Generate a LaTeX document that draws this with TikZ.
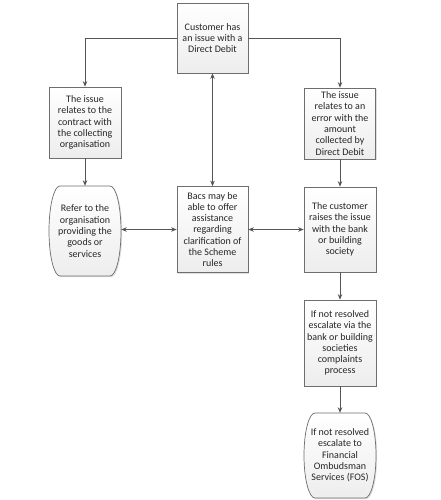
\documentclass[tikz,border=0pt]{standalone}
\usepackage{fontspec}
\setmainfont{Carlito}
\usetikzlibrary{arrows.meta,calc,shadows}
\definecolor{edge}{HTML}{6E6E6E}
\definecolor{conn}{HTML}{555555}
\definecolor{txt}{HTML}{262626}
\tikzset{
  boxfill/.style={draw=edge, line width=0.7pt, top color=white, bottom color=gray!14,
    drop shadow={shadow xshift=1.2pt, shadow yshift=-1.2pt, opacity=0.25}},
  box/.style={boxfill, align=center, inner sep=1pt, text=txt,
    font=\fontsize{10}{11.3}\selectfont},
  plaintxt/.style={align=center, inner sep=1pt, text=txt,
    font=\fontsize{10}{11.3}\selectfont},
  conn/.style={draw=conn, line width=0.8pt},
  arr/.style={conn, -{Stealth[length=5.5pt,width=4.5pt]}},
  darr/.style={conn, {Stealth[length=5.5pt,width=4.5pt]}-{Stealth[length=5.5pt,width=4.5pt]}}
}
% name, x, y, w, h, text
\newcommand\myoval[6]{%
  \path[boxfill] (#2-#4/2+11,#3-#5/2) -- (#2+#4/2-11,#3-#5/2)
    .. controls (#2+#4/2-4.9,#3-#5/2) and (#2+#4/2,#3-0.276*#5) .. (#2+#4/2,#3)
    .. controls (#2+#4/2,#3+0.276*#5) and (#2+#4/2-4.9,#3+#5/2) .. (#2+#4/2-11,#3+#5/2)
    -- (#2-#4/2+11,#3+#5/2)
    .. controls (#2-#4/2+4.9,#3+#5/2) and (#2-#4/2,#3+0.276*#5) .. (#2-#4/2,#3)
    .. controls (#2-#4/2,#3-0.276*#5) and (#2-#4/2+4.9,#3-#5/2) .. (#2-#4/2+11,#3-#5/2) -- cycle;
  \node[plaintxt, minimum width=#4, minimum height=#5] (#1) at (#2,#3) {#6};}
\begin{document}
\begin{tikzpicture}[x=1pt,y=-1pt]
\path[use as bounding box] (0,0) rectangle (440,500);
\fill[white] (0,0) rectangle (440,500);

\node[box, minimum width=71, minimum height=70] (top) at (212.5,38)
  {Customer has\\an issue with a\\Direct Debit};
\node[box, minimum width=72, minimum height=71] (lb) at (85,122.5)
  {The issue\\relates to the\\contract with\\the collecting\\organisation};
\node[box, minimum width=71, minimum height=71] (rb) at (340,123.5)
  {The issue\\relates to an\\error with the\\amount\\collected by\\Direct Debit};
\myoval{lo}{85}{231}{72}{90}{Refer to the\\organisation\\providing the\\goods or\\services}
\node[box, minimum width=71, minimum height=86] (mid) at (212.5,229.5)
  {Bacs may be\\able to offer\\assistance\\regarding\\clarification of\\the Scheme\\rules};
\node[box, minimum width=72, minimum height=85] (rb2) at (340,229.5)
  {The customer\\raises the issue\\with the bank\\or building\\society};
\node[box, minimum width=72, minimum height=86] (b3) at (340,343)
  {If not resolved\\escalate via the\\bank or building\\societies\\complaints\\process};
\myoval{bo}{340}{455.5}{72}{85}{If not resolved\\escalate to\\Financial\\Ombudsman\\Services (FOS)}

\draw[arr] (top.west) -| (lb.north);
\draw[arr] (top.east) -| (rb.north);
\draw[arr] (lb.south) -- (lo.north);
\draw[arr] (rb.south) -- (rb2.north);
\draw[darr] (mid.west -| lo.east) -- (mid.west);
\draw[darr] (mid.east) -- (rb2.west);
\draw[darr] (mid.north) -- (top.south);
\draw[arr] (rb2.south) -- (b3.north);
\draw[arr] (b3.south) -- (bo.north);
\end{tikzpicture}
\end{document}
